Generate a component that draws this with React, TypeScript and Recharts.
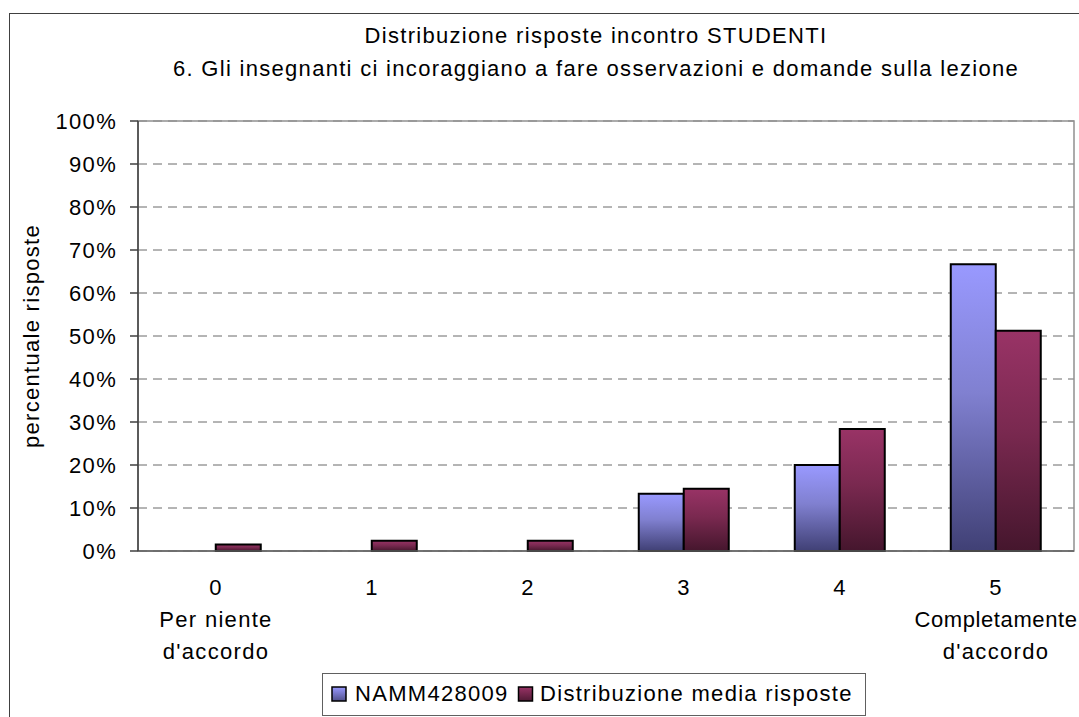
import { Bar, BarChart, CartesianGrid, XAxis, YAxis, ReferenceArea } from "recharts"

const categories = ["0", "1", "2", "3", "4", "5"]
const subLabels = [["Per niente", "d'accordo"], [], [], [], [], ["Completamente", "d'accordo"]]
const nammValues = [0, 0, 0, 13.3, 20, 66.7]
const mediaValues = [1.5, 2.4, 2.4, 14.5, 28.4, 51.2]
const yTicks = [0, 10, 20, 30, 40, 50, 60, 70, 80, 90, 100]
const boundaryTicks = [0, 1, 2, 3, 4, 5, 6]
const seriesNames = ["NAMM428009", "Distribuzione media risposte"]
const titleLines = [
  "Distribuzione risposte incontro STUDENTI",
  "6. Gli insegnanti ci incoraggiano a fare osservazioni e domande sulla lezione",
]

const FONT = "'Liberation Sans', Arial, sans-serif"
const LS = 1.3

function CategoryTick({ x, y, payload }: any) {
  const lines = [categories[payload.index], ...subLabels[payload.index]]
  return (
    <text x={x} y={y + 36} textAnchor="middle" fontFamily={FONT} fontSize={22} fill="#000">
      {lines.map((l, i) => (
        // long label at the right edge gets a bit tighter so it stays in view
        <tspan key={i} x={x} dy={i === 0 ? 0 : 32} letterSpacing={l.length > 12 ? 0.6 : LS}>
          {l}
        </tspan>
      ))}
    </text>
  )
}

export default function App() {
  const data = categories.map((c, i) => ({ cat: c, namm: nammValues[i], media: mediaValues[i] }))

  return (
    <div style={{ position: "absolute", left: 0, top: 0, width: 1079, height: 717, overflow: "hidden", background: "#fff" }}>
      {/* outer frame */}
      <div style={{ position: "absolute", left: 9, top: 13, width: 1100, height: 740, border: "1px solid #404040" }} />
      <div style={{ position: "absolute", left: 0, top: 0 }}>
        <BarChart
          width={1079}
          height={717}
          data={data}
          margin={{ top: 121, right: 5, left: 0, bottom: 0 }}
          barCategoryGap="21%"
          barGap={0}
        >
          <defs>
            <linearGradient id="gBlue" x1="0" y1="0" x2="0" y2="1">
              <stop offset="0%" stopColor="#9999FF" />
              <stop offset="45%" stopColor="#8080D0" />
              <stop offset="100%" stopColor="#404075" />
            </linearGradient>
            <linearGradient id="gRed" x1="0" y1="0" x2="0" y2="1">
              <stop offset="0%" stopColor="#993366" />
              <stop offset="45%" stopColor="#7A2950" />
              <stop offset="100%" stopColor="#45162D" />
            </linearGradient>
          </defs>
          <CartesianGrid vertical={false} stroke="#6a6a6a" strokeDasharray="9 6" />
          <ReferenceArea y1={0} y2={100} fill="none" stroke="#909090" strokeWidth={1.5} ifOverflow="visible" />
          <XAxis
            xAxisId="tk"
            type="number"
            domain={[0, 6]}
            ticks={boundaryTicks}
            interval={0}
            allowDataOverflow
            height={0}
            tick={false}
            tickSize={8}
            tickLine={{ stroke: "#606060", strokeWidth: 1.5 }}
            axisLine={false}
          />
          <XAxis
            dataKey="cat"
            height={166}
            interval={0}
            tickLine={false}
            axisLine={{ stroke: "#606060", strokeWidth: 1.5 }}
            tick={<CategoryTick />}
          />
          <YAxis
            width={138}
            domain={[0, 100]}
            ticks={yTicks}
            interval={0}
            tickFormatter={(v) => `${v}%`}
            tickSize={8}
            tickMargin={13}
            tickLine={{ stroke: "#404040", strokeWidth: 1.5 }}
            axisLine={{ stroke: "#404040", strokeWidth: 1.5 }}
            tick={{ fill: "#000", fontSize: 22, fontFamily: FONT, letterSpacing: LS }}
          />
          <Bar dataKey="namm" name={seriesNames[0]} fill="url(#gBlue)" stroke="#000" strokeWidth={2} isAnimationActive={false} />
          <Bar dataKey="media" name={seriesNames[1]} fill="url(#gRed)" stroke="#000" strokeWidth={2} isAnimationActive={false} />
        </BarChart>
      </div>
      <svg width={1079} height={717} style={{ position: "absolute", left: 0, top: 0, pointerEvents: "none" }}>
        <defs>
          <linearGradient id="lBlue" x1="0" y1="0" x2="0" y2="1">
            <stop offset="0%" stopColor="#9999FF" />
            <stop offset="100%" stopColor="#50508A" />
          </linearGradient>
          <linearGradient id="lRed" x1="0" y1="0" x2="0" y2="1">
            <stop offset="0%" stopColor="#993366" />
            <stop offset="100%" stopColor="#501A35" />
          </linearGradient>
        </defs>
        <g fontFamily={FONT} fontSize={22} letterSpacing={LS} fill="#000">
          <text x={596} y={43} textAnchor="middle">{titleLines[0]}</text>
          <text x={596} y={76} textAnchor="middle">{titleLines[1]}</text>
          <text transform="translate(39,336) rotate(-90)" textAnchor="middle">percentuale risposte</text>
        </g>
        {/* legend */}
        <rect x={322.5} y={673.5} width={543} height={42} fill="#fff" stroke="#606060" strokeWidth={1} />
        <rect x={332} y={687} width={14} height={14} fill="url(#lBlue)" stroke="#000" strokeWidth={1.5} />
        <rect x={518.5} y={687} width={14} height={14} fill="url(#lRed)" stroke="#000" strokeWidth={1.5} />
        <g fontFamily={FONT} fontSize={22} letterSpacing={LS} fill="#000">
          <text x={355} y={701}>{seriesNames[0]}</text>
          <text x={540} y={701}>{seriesNames[1]}</text>
        </g>
      </svg>
    </div>
  )
}
